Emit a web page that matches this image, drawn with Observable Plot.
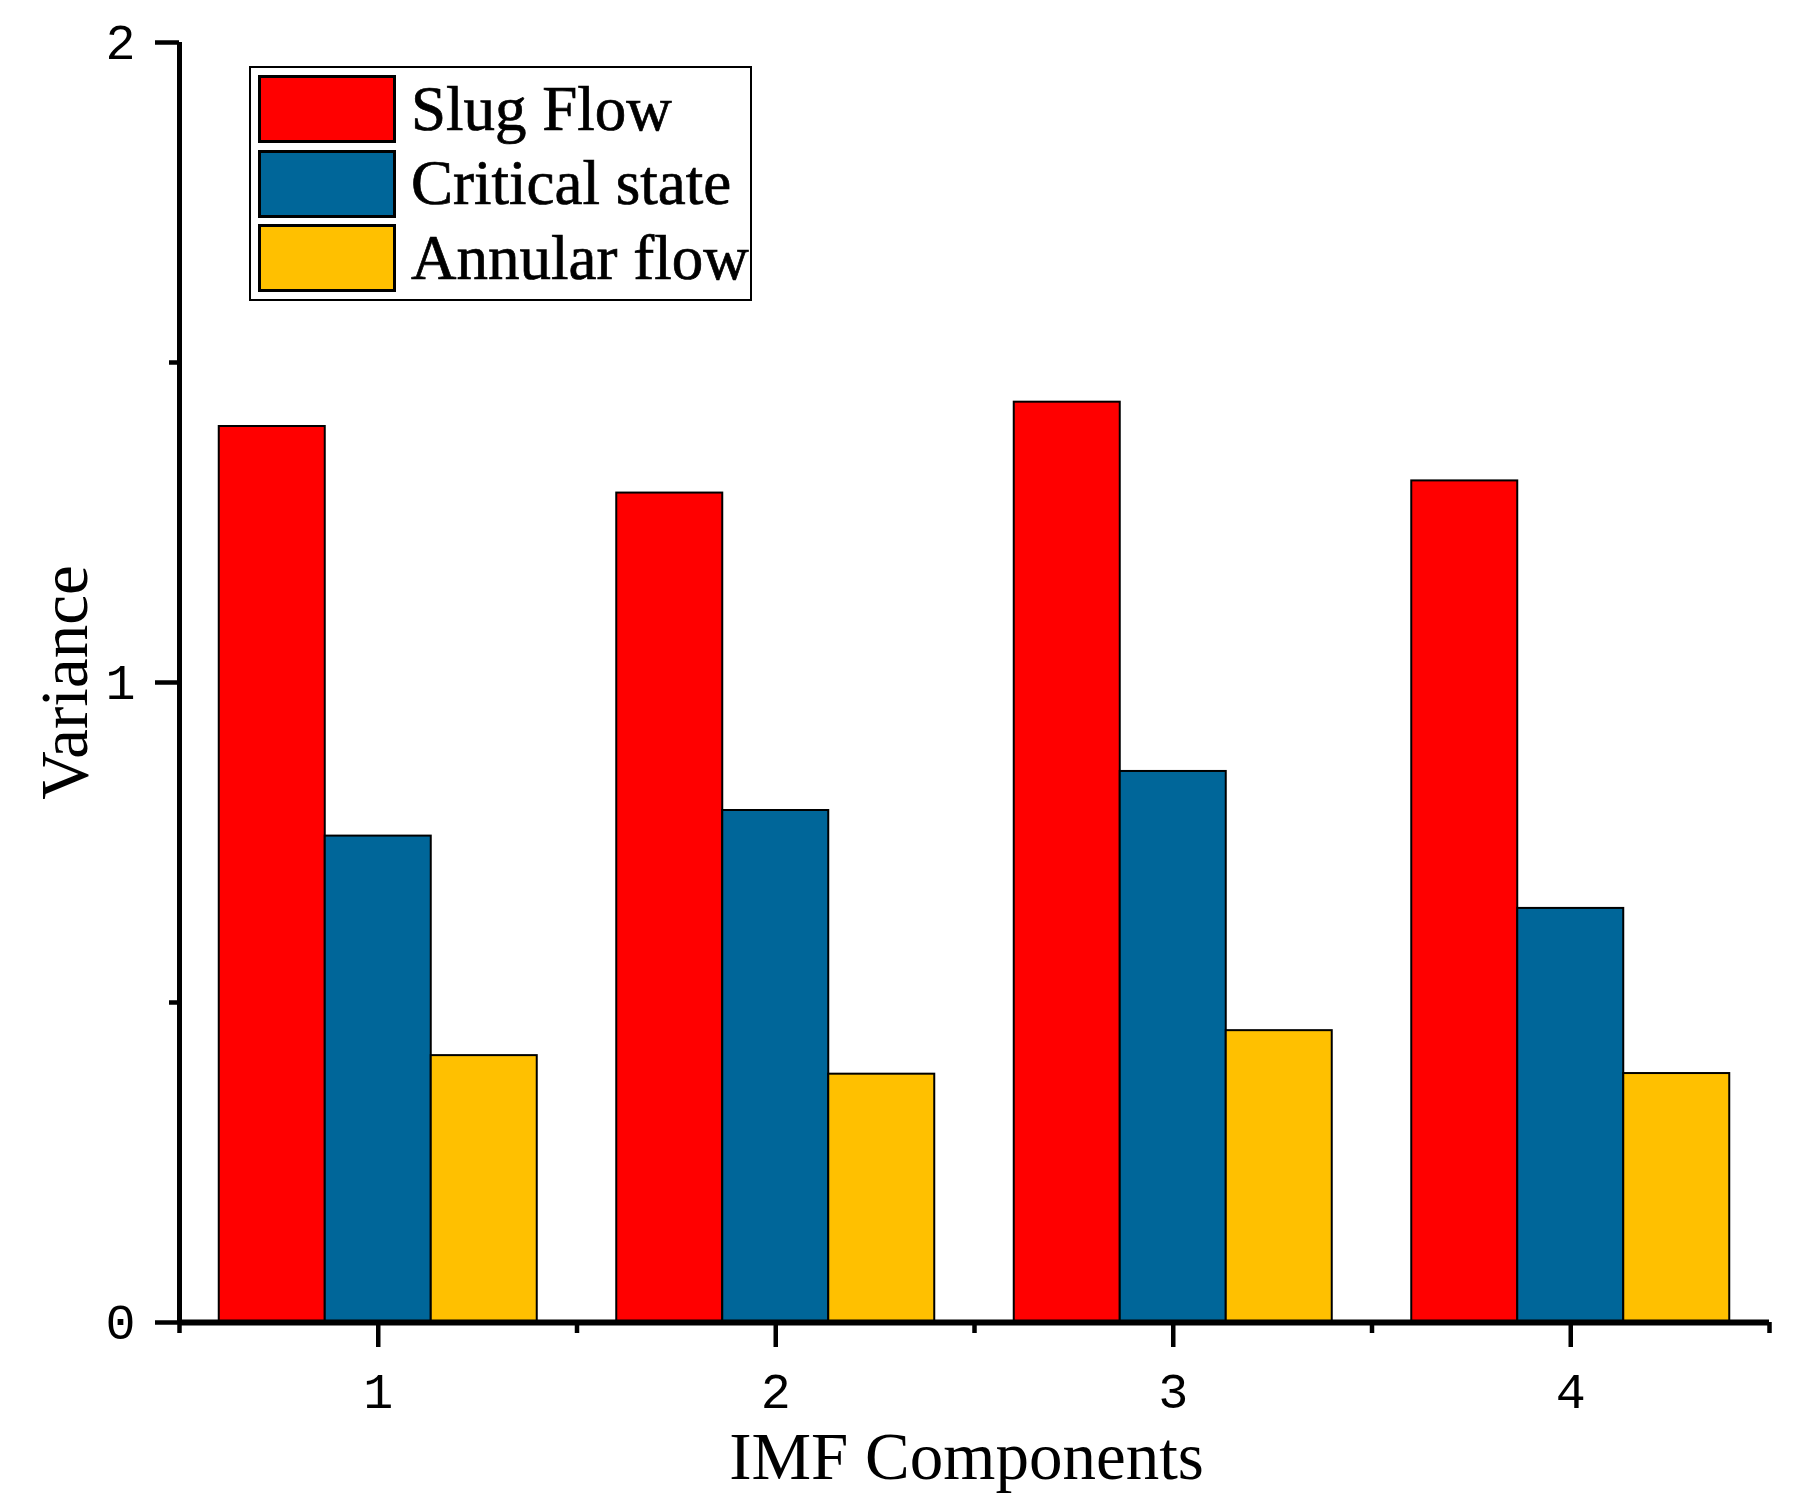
<!DOCTYPE html>
<html>
<head>
<meta charset="utf-8">
<script src="https://cdn.jsdelivr.net/npm/d3@7"></script>
<script src="https://cdn.jsdelivr.net/npm/@observablehq/plot@0.6"></script>
<style>
  html, body { margin: 0; padding: 0; background: #fff; }
  #wrap { position: relative; width: 1795px; height: 1509px; }
  #legend {
    position: absolute; left: 249px; top: 66px; width: 503px; height: 235px;
    box-sizing: border-box; border: 2.5px solid #000; background: #fff;
  }
  .row { position: absolute; left: 7px; height: 68px; display: flex; align-items: center; }
  .sw { width: 138px; height: 68px; box-sizing: border-box; border: 3px solid #000; }
  .lab { margin-left: 15px; font-family: "Liberation Serif", "Times New Roman", serif; font-size: 63px; color: #000; white-space: nowrap; -webkit-text-stroke: 0.7px #000; }
  svg text.ttl { -webkit-text-stroke: 0.7px #000; }
</style>
</head>
<body>
<div id="wrap"></div>
<script>
// ---- data ----
const components = [1, 2, 3, 4];
const seriesNames = ["Slug Flow", "Critical state", "Annular flow"];
const slugFlow = [1.40, 1.296, 1.438, 1.315];
const criticalState = [0.76, 0.80, 0.861, 0.647];
const annularFlow = [0.417, 0.388, 0.456, 0.389];
const seriesColors = ["#FF0000", "#006699", "#FFC000"];
const yMajorTicks = [0, 1, 2];
const yMinorTicks = [0.5, 1.5];
const xMinorTicks = [0.5, 1.5, 2.5, 3.5, 4.5];

const seriesValues = [slugFlow, criticalState, annularFlow];
const rows = [];
components.forEach((c, i) => {
  seriesValues.forEach((vals, k) => {
    rows.push({component: c, series: seriesNames[k], k, value: vals[i]});
  });
});

const groupWidth = 0.8;
const barW = groupWidth / seriesNames.length;

const tickFont = "'Liberation Mono', 'DejaVu Sans Mono', monospace";
const titleFont = "'Liberation Serif', 'Times New Roman', serif";

const chart = Plot.plot({
  width: 1795,
  height: 1509,
  marginLeft: 179,
  marginRight: 26,
  marginTop: 42,
  marginBottom: 187,
  style: {background: "#fff", color: "#000", fontFamily: tickFont},
  x: {domain: [0.5, 4.5], axis: null},
  y: {domain: [0, 2], axis: null},
  color: {domain: seriesNames, range: seriesColors},
  marks: [
    Plot.rectY(rows, {
      x1: d => d.component - groupWidth / 2 + d.k * barW,
      x2: d => d.component - groupWidth / 2 + (d.k + 1) * barW,
      y: "value",
      fill: "series",
      stroke: "#000",
      strokeWidth: 2
    }),
    // minor ticks
    Plot.axisY({ticks: yMinorTicks, tickSize: 10, tickFormat: () => "", strokeWidth: 4.5, label: null}),
    Plot.axisX({ticks: xMinorTicks, tickSize: 11, tickFormat: () => "", strokeWidth: 4.5, label: null}),
    // major ticks with labels
    Plot.axisY({ticks: yMajorTicks, tickSize: 24, tickPadding: 20, tickFormat: d => String(d),
      strokeWidth: 4.5, fontSize: 50, fontFamily: tickFont, label: null}),
    Plot.axisX({ticks: components, tickSize: 25, tickPadding: 25, tickFormat: d => String(d),
      strokeWidth: 4.5, fontSize: 50, fontFamily: tickFont, label: null}),
    // axis lines
    Plot.ruleX([0.5], {strokeWidth: 5}),
    Plot.ruleY([0], {strokeWidth: 6}),
    // axis titles
    Plot.text(["IMF Components"], {frameAnchor: "bottom", dx: -8, dy: 135, lineAnchor: "middle", textAnchor: "middle",
      fontSize: 67, fontFamily: titleFont, fill: "#000", className: "ttl"}),
    Plot.text(["Variance"], {frameAnchor: "left", dx: -114, rotate: -90, lineAnchor: "middle", textAnchor: "middle",
      fontSize: 67, fontFamily: titleFont, fill: "#000", className: "ttl"})
  ]
});

const wrap = document.getElementById("wrap");
wrap.appendChild(chart);
chart.querySelectorAll("g.ttl text, text.ttl").forEach(t => t.classList.add("ttl"));

// legend overlay
const legend = document.createElement("div");
legend.id = "legend";
seriesNames.forEach((name, i) => {
  const row = document.createElement("div");
  row.className = "row";
  row.style.top = (7 + i * 74.5) + "px";
  const sw = document.createElement("div");
  sw.className = "sw";
  sw.style.background = seriesColors[i];
  const lab = document.createElement("span");
  lab.className = "lab";
  lab.textContent = name;
  row.appendChild(sw);
  row.appendChild(lab);
  legend.appendChild(row);
});
wrap.appendChild(legend);
</script>
</body>
</html>
